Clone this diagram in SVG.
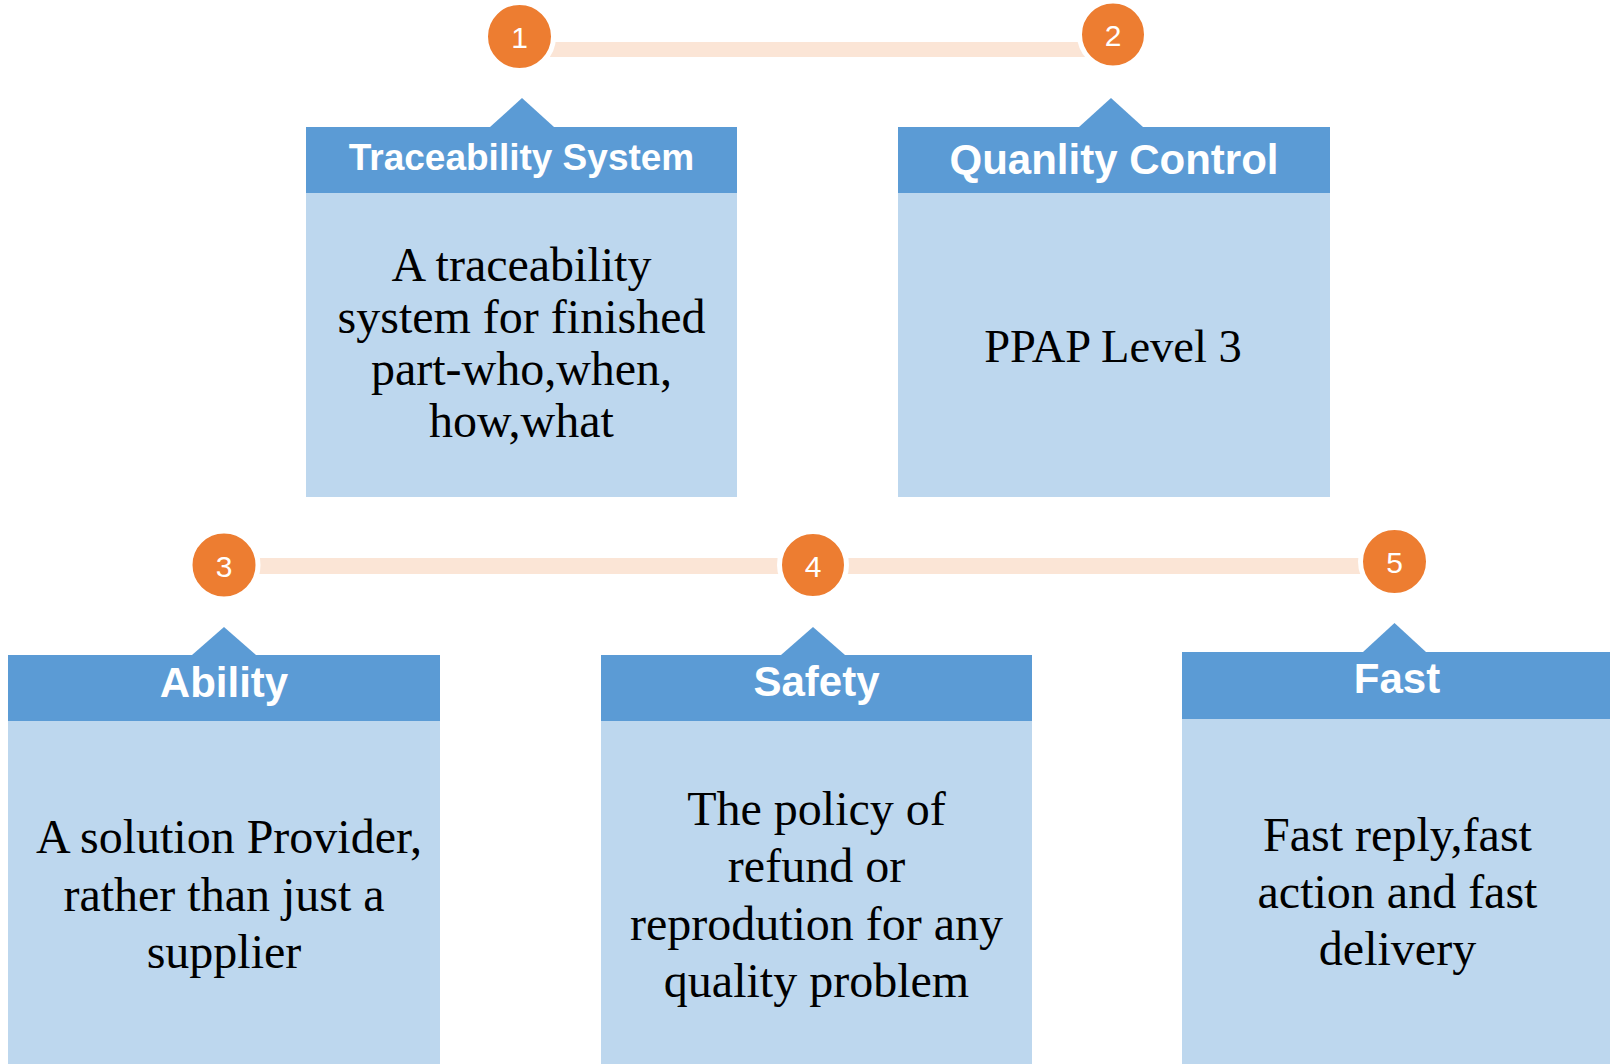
<svg xmlns="http://www.w3.org/2000/svg" width="1610" height="1064" viewBox="0 0 1610 1064">
<style>
.hdr{fill:#5B9BD5}
.body{fill:#BDD7EE}
.dot{fill:#ED7D31;stroke:#FFFFFF;stroke-width:5}
.bar{fill:#FBE5D6}
.num{font-family:"Liberation Sans",Arial,sans-serif;font-size:30px;fill:#FFFFFF;text-anchor:middle}
.ttl{font-family:"Liberation Sans",Arial,sans-serif;font-weight:bold;font-size:42px;fill:#FFFFFF;text-anchor:middle}
.txt{font-family:"Liberation Serif","Times New Roman",serif;font-size:48px;fill:#000000;text-anchor:middle}
</style>
<rect width="1610" height="1064" fill="#FFFFFF"/>
<g id="connectors">
<rect class="bar" x="519" y="42" width="594" height="15"/>
<rect class="bar" x="224" y="558" width="1170" height="16"/>
</g>
<g id="node1">
<circle class="dot" cx="519.5" cy="36.5" r="34"/>
<text class="num" x="519.5" y="47.5">1</text>
<polygon class="hdr" points="490,127 522,98 554,127"/>
<rect class="hdr" x="306" y="127" width="431" height="66"/>
<rect class="body" x="306" y="193" width="431" height="304"/>
<text class="ttl" x="521.5" y="170" style="font-size:37px">Traceability System</text>
<text class="txt" x="521.5" y="281">A traceability</text>
<text class="txt" x="521.5" y="333">system for finished</text>
<text class="txt" x="521.5" y="385">part-who,when,</text>
<text class="txt" x="521.5" y="437">how,what</text>
</g>
<g id="node2">
<circle class="dot" cx="1113" cy="34.5" r="33.5"/>
<text class="num" x="1113" y="45.5">2</text>
<polygon class="hdr" points="1079,127 1111,98 1143,127"/>
<rect class="hdr" x="898" y="127" width="432" height="66"/>
<rect class="body" x="898" y="193" width="432" height="304"/>
<text class="ttl" x="1114" y="174">Quanlity Control</text>
<text class="txt" x="1113" y="362" style="font-size:46.5px">PPAP Level 3</text>
</g>
<g id="node3">
<circle class="dot" cx="224" cy="565" r="34"/>
<text class="num" x="224" y="576.5">3</text>
<polygon class="hdr" points="192,655 224,627 256,655"/>
<rect class="hdr" x="8" y="655" width="432" height="66"/>
<rect class="body" x="8" y="721" width="432" height="343"/>
<text class="ttl" x="224" y="697">Ability</text>
<text class="txt" x="229" y="853">A solution Provider,</text>
<text class="txt" x="224" y="911">rather than just a</text>
<text class="txt" x="224" y="968">supplier</text>
</g>
<g id="node4">
<circle class="dot" cx="813" cy="565" r="33.5"/>
<text class="num" x="813" y="576.5">4</text>
<polygon class="hdr" points="781,655 813,627 845,655"/>
<rect class="hdr" x="601" y="655" width="431" height="66"/>
<rect class="body" x="601" y="721" width="431" height="343"/>
<text class="ttl" x="816.5" y="696">Safety</text>
<text class="txt" x="816.5" y="825">The policy of</text>
<text class="txt" x="816.5" y="882">refund or</text>
<text class="txt" x="816.5" y="940">reprodution for any</text>
<text class="txt" x="816.5" y="997">quality problem</text>
</g>
<g id="node5">
<circle class="dot" cx="1394.5" cy="561.5" r="34"/>
<text class="num" x="1394.5" y="573">5</text>
<polygon class="hdr" points="1363,652 1394.5,623 1426,652"/>
<rect class="hdr" x="1182" y="652" width="428" height="67"/>
<rect class="body" x="1182" y="719" width="428" height="345"/>
<text class="ttl" x="1397" y="693">Fast</text>
<text class="txt" x="1397.5" y="851">Fast reply,fast</text>
<text class="txt" x="1397.5" y="908">action and fast</text>
<text class="txt" x="1397.5" y="965">delivery</text>
</g>
</svg>
